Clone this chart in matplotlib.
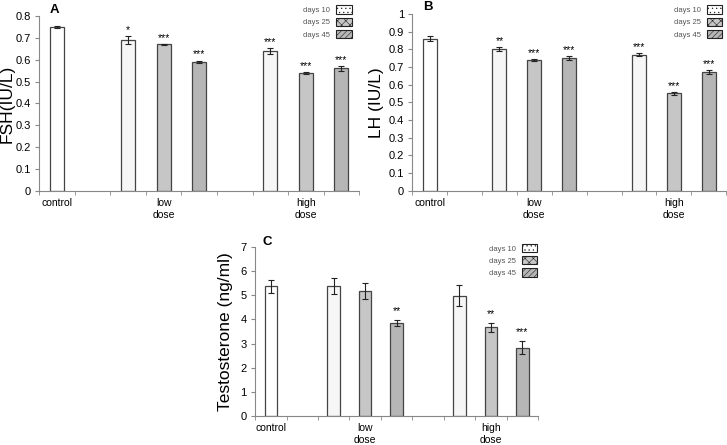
import matplotlib
matplotlib.use('Agg')
import matplotlib.pyplot as plt
from matplotlib.patches import Patch

plt.rcParams['font.family'] = ['Liberation Sans', 'DejaVu Sans']
plt.rcParams['hatch.linewidth'] = 0.4

# bar slots: control, (gap), low dose x3, (gap), high dose x3
positions = [0, 2, 3, 4, 6, 7, 8]
groups = ['control', 'days 10', 'days 25', 'days 45', 'days 10', 'days 25', 'days 45']

fsh = [0.75, 0.69, 0.67, 0.59, 0.64, 0.54, 0.56]
fsh_err = [0.005, 0.02, 0.003, 0.006, 0.012, 0.005, 0.01]
fsh_sig = ['', '*', '***', '***', '***', '***', '***']

lh = [0.86, 0.80, 0.74, 0.75, 0.77, 0.55, 0.67]
lh_err = [0.012, 0.01, 0.005, 0.01, 0.006, 0.008, 0.01]
lh_sig = ['', '**', '***', '***', '***', '***', '***']

testo = [5.37, 5.38, 5.18, 3.85, 4.98, 3.67, 2.83]
testo_err = [0.27, 0.33, 0.33, 0.14, 0.43, 0.19, 0.28]
testo_sig = ['', '', '', '**', '', '**', '***']

xlabels = ['control', 'low\ndose', 'high\ndose']
xlabel_pos = [0, 3, 7]

colors = {'control': 'white', 'days 10': '#f6f6f6', 'days 25': '#c6c6c6', 'days 45': '#b6b6b6'}
hatches = {'days 10': '....', 'days 25': 'xxxx', 'days 45': '//////'}


def panel(ax, vals, errs, sig, ymax, ystep, ylabel, label_x, letter, letter_pos, leg_anchor, star_off):
    ax.bar(positions, vals, width=0.4, color=[colors[g] for g in groups],
           edgecolor='#444444', linewidth=0.9, zorder=2)
    ax.errorbar(positions, vals, yerr=errs, fmt='none', ecolor='#222222',
                elinewidth=0.8, capsize=2, capthick=0.8, zorder=3)
    for x, v, e, s in zip(positions, vals, errs, sig):
        if s:
            ax.text(x, v + e + star_off, s, ha='center', va='bottom', fontsize=7.5)
    ax.set_xlim(-0.5, 8.5)
    ax.set_ylim(0, ymax)
    n = int(round(ymax / ystep))
    ticks = [i * ystep for i in range(n + 1)]
    ax.set_yticks(ticks)
    ax.set_yticklabels([('%g' % t) for t in ticks])
    ax.set_xticks(xlabel_pos)
    ax.set_xticklabels(xlabels, fontsize=7.5, linespacing=1.25)
    ax.set_xticks([i - 0.5 for i in range(10)], minor=True)
    ax.tick_params(axis='x', which='major', length=0, pad=5)
    ax.tick_params(axis='x', which='minor', length=3, color='#888888')
    ax.tick_params(axis='y', length=3, labelsize=8, color='#888888', pad=3)
    for sp in ['top', 'right']:
        ax.spines[sp].set_visible(False)
    for sp in ['left', 'bottom']:
        ax.spines[sp].set_color('#888888')
        ax.spines[sp].set_linewidth(0.8)
    ax.set_ylabel(ylabel, fontsize=12.5)
    ax.yaxis.set_label_coords(label_x, 0.5)
    ax.text(letter_pos[0], letter_pos[1], letter, transform=ax.transAxes, fontsize=9.5,
            fontweight='bold', va='center', ha='center')
    handles = [Patch(facecolor=colors[k] if k != 'days 10' else 'white',
                     edgecolor='#222222', hatch=hatches[k], linewidth=0.8, label=k)
               for k in ['days 10', 'days 25', 'days 45']]
    leg = ax.legend(handles=handles, loc='upper right', bbox_to_anchor=leg_anchor,
                    bbox_transform=fig.transFigure, frameon=False, markerfirst=False,
                    fontsize=5.5, handlelength=2.0, handleheight=1.3,
                    labelspacing=0.45, borderpad=0.1, handletextpad=0.8)
    for t in leg.get_texts():
        t.set_color('#555555')


fig = plt.figure(figsize=(7.27, 4.45), dpi=100)
axA = fig.add_axes([0.054, 0.571, 0.440, 0.393])
axB = fig.add_axes([0.567, 0.571, 0.432, 0.398])
axC = fig.add_axes([0.351, 0.065, 0.389, 0.380])

panel(axA, fsh, fsh_err, fsh_sig, 0.8, 0.1, 'FSH(IU/L)', -0.078, 'A', (0.047, 1.034), (0.490, 0.998), 0.005)
panel(axB, lh, lh_err, lh_sig, 1.0, 0.1, 'LH (IU/L)', -0.089, 'B', (0.05, 1.04), (1.0, 0.998), 0.006)
panel(axC, testo, testo_err, testo_sig, 7, 1, 'Testosterone (ng/ml)', -0.08, 'C', (0.043, 1.03), (0.745, 0.462), 0.15)

fig.savefig('out.png', dpi=100)
